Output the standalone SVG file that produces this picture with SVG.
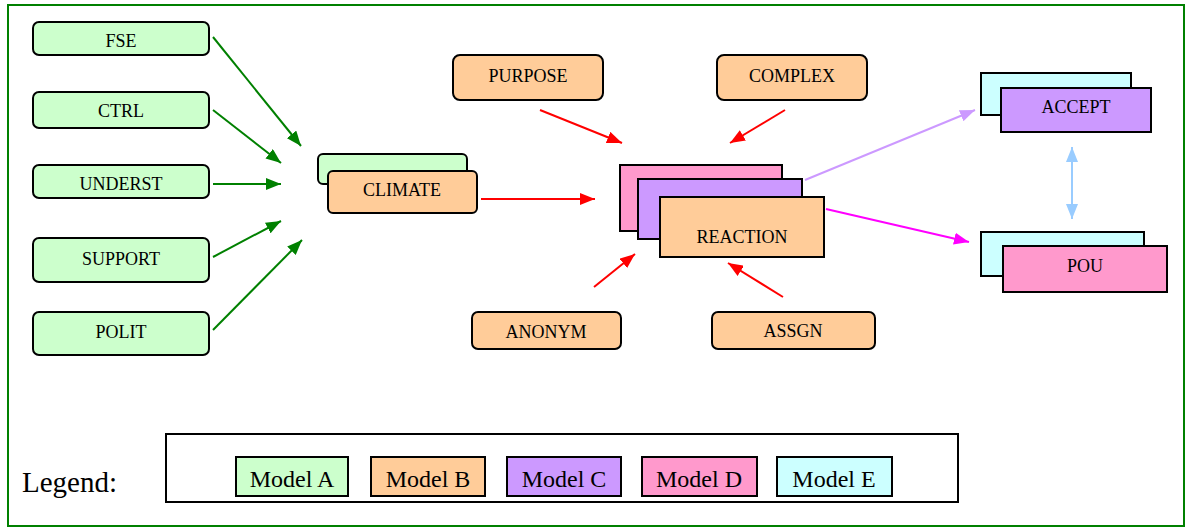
<svg xmlns="http://www.w3.org/2000/svg" width="1188" height="529" viewBox="0 0 1188 529">
  <style>
    .box { stroke: #000; stroke-width: 2; }
    .a { fill: #ccffcc; }
    .b { fill: #ffcc99; }
    .c { fill: #cc99ff; }
    .d { fill: #ff99cc; }
    .e { fill: #ccffff; }
    .lbl { font-family: "Liberation Serif", "Times New Roman", serif; font-size: 18px; fill: #000; text-anchor: middle; }
    .leg { font-family: "Liberation Serif", "Times New Roman", serif; font-size: 24px; fill: #000; text-anchor: middle; }
    .edge { fill: none; stroke-width: 2; }
  </style>
  <defs>
    <marker id="arrGreen" markerUnits="userSpaceOnUse" markerWidth="16" markerHeight="12" refX="15" refY="6" orient="auto">
      <path d="M0,0 L15,6 L0,12 Z" fill="#008000"/>
    </marker>
    <marker id="arrRed" markerUnits="userSpaceOnUse" markerWidth="16" markerHeight="12" refX="15" refY="6" orient="auto">
      <path d="M0,0 L15,6 L0,12 Z" fill="#ff0000"/>
    </marker>
    <marker id="arrPurple" markerUnits="userSpaceOnUse" markerWidth="16" markerHeight="12" refX="15" refY="6" orient="auto">
      <path d="M0,0 L15,6 L0,12 Z" fill="#cc99ff"/>
    </marker>
    <marker id="arrMagenta" markerUnits="userSpaceOnUse" markerWidth="16" markerHeight="12" refX="15" refY="6" orient="auto">
      <path d="M0,0 L15,6 L0,12 Z" fill="#ff00ff"/>
    </marker>
    <marker id="arrBlue" markerUnits="userSpaceOnUse" markerWidth="16" markerHeight="12" refX="15" refY="6" orient="auto-start-reverse">
      <path d="M0,0 L15,6 L0,12 Z" fill="#99ccff"/>
    </marker>
  </defs>

  <!-- outer frame -->
  <rect x="8" y="5" width="1176" height="521" fill="#fff" stroke="#008000" stroke-width="2"/>

  <!-- connectors -->
  <g id="connectors">
    <line class="edge" stroke="#008000" x1="213" y1="37" x2="301" y2="146" marker-end="url(#arrGreen)"/>
    <line class="edge" stroke="#008000" x1="213" y1="110" x2="281" y2="163" marker-end="url(#arrGreen)"/>
    <line class="edge" stroke="#008000" x1="213" y1="184" x2="281" y2="184" marker-end="url(#arrGreen)"/>
    <line class="edge" stroke="#008000" x1="213" y1="257" x2="281" y2="221" marker-end="url(#arrGreen)"/>
    <line class="edge" stroke="#008000" x1="213" y1="330" x2="302" y2="240" marker-end="url(#arrGreen)"/>
    <line class="edge" stroke="#ff0000" x1="481" y1="199" x2="595" y2="199" marker-end="url(#arrRed)"/>
    <line class="edge" stroke="#ff0000" x1="540" y1="110" x2="622" y2="143" marker-end="url(#arrRed)"/>
    <line class="edge" stroke="#ff0000" x1="785" y1="110" x2="730" y2="143" marker-end="url(#arrRed)"/>
    <line class="edge" stroke="#ff0000" x1="594" y1="287" x2="635" y2="254" marker-end="url(#arrRed)"/>
    <line class="edge" stroke="#ff0000" x1="783" y1="297" x2="728" y2="263" marker-end="url(#arrRed)"/>
    <line class="edge" stroke="#cc99ff" x1="805" y1="180" x2="975" y2="110" marker-end="url(#arrPurple)"/>
    <line class="edge" stroke="#ff00ff" x1="826" y1="209" x2="969" y2="242" marker-end="url(#arrMagenta)"/>
    <line class="edge" stroke="#99ccff" x1="1072" y1="147" x2="1072" y2="219" marker-start="url(#arrBlue)" marker-end="url(#arrBlue)"/>
  </g>

  <!-- inputs to CLIMATE -->
  <g id="fse">
    <rect class="box a" x="33" y="22" width="176" height="33" rx="6"/>
    <text class="lbl" x="121" y="47">FSE</text>
  </g>
  <g id="ctrl">
    <rect class="box a" x="33" y="92" width="176" height="36" rx="6"/>
    <text class="lbl" x="121" y="117">CTRL</text>
  </g>
  <g id="underst">
    <rect class="box a" x="33" y="165" width="176" height="33" rx="6"/>
    <text class="lbl" x="121" y="190">UNDERST</text>
  </g>
  <g id="support">
    <rect class="box a" x="33" y="238" width="176" height="44" rx="6"/>
    <text class="lbl" x="121" y="265">SUPPORT</text>
  </g>
  <g id="polit">
    <rect class="box a" x="33" y="312" width="176" height="43" rx="6"/>
    <text class="lbl" x="121" y="338">POLIT</text>
  </g>

  <!-- CLIMATE -->
  <g id="climate">
    <rect class="box a" x="318" y="154" width="149" height="30" rx="5"/>
    <rect class="box b" x="328" y="171" width="149" height="42" rx="5"/>
    <text class="lbl" x="402" y="196">CLIMATE</text>
  </g>

  <!-- inputs to REACTION -->
  <g id="purpose">
    <rect class="box b" x="453" y="55" width="150" height="45" rx="7"/>
    <text class="lbl" x="528" y="82">PURPOSE</text>
  </g>
  <g id="complex">
    <rect class="box b" x="717" y="55" width="150" height="45" rx="7"/>
    <text class="lbl" x="792" y="82">COMPLEX</text>
  </g>
  <g id="anonym">
    <rect class="box b" x="472" y="312" width="149" height="37" rx="6"/>
    <text class="lbl" x="546" y="338">ANONYM</text>
  </g>
  <g id="assgn">
    <rect class="box b" x="712" y="312" width="163" height="37" rx="6"/>
    <text class="lbl" x="793" y="337">ASSGN</text>
  </g>

  <!-- REACTION -->
  <g id="reaction">
    <rect class="box d" x="620" y="165" width="162" height="66"/>
    <rect class="box c" x="638" y="179" width="164" height="60"/>
    <rect class="box b" x="660" y="197" width="164" height="60"/>
    <text class="lbl" x="742" y="243">REACTION</text>
  </g>

  <!-- outcomes -->
  <g id="accept">
    <rect class="box e" x="981" y="73" width="150" height="42"/>
    <rect class="box c" x="1001" y="88" width="150" height="44"/>
    <text class="lbl" x="1076" y="113">ACCEPT</text>
  </g>
  <g id="pou">
    <rect class="box e" x="981" y="232" width="163" height="44"/>
    <rect class="box d" x="1003" y="246" width="164" height="46"/>
    <text class="lbl" x="1085" y="272">POU</text>
  </g>

  <!-- legend -->
  <g id="legend">
    <text x="22" y="492" font-family="Liberation Serif, Times New Roman, serif" font-size="29">Legend:</text>
    <rect x="166" y="434" width="792" height="68" fill="#fff" stroke="#000" stroke-width="2"/>
    <rect class="box a" x="236" y="457" width="112" height="39"/>
    <text class="leg" x="292" y="487">Model A</text>
    <rect class="box b" x="371" y="457" width="114" height="39"/>
    <text class="leg" x="428" y="487">Model B</text>
    <rect class="box c" x="507" y="457" width="114" height="39"/>
    <text class="leg" x="564" y="487">Model C</text>
    <rect class="box d" x="642" y="457" width="115" height="39"/>
    <text class="leg" x="699" y="487">Model D</text>
    <rect class="box e" x="777" y="457" width="115" height="39"/>
    <text class="leg" x="834" y="487">Model E</text>
  </g>
</svg>
